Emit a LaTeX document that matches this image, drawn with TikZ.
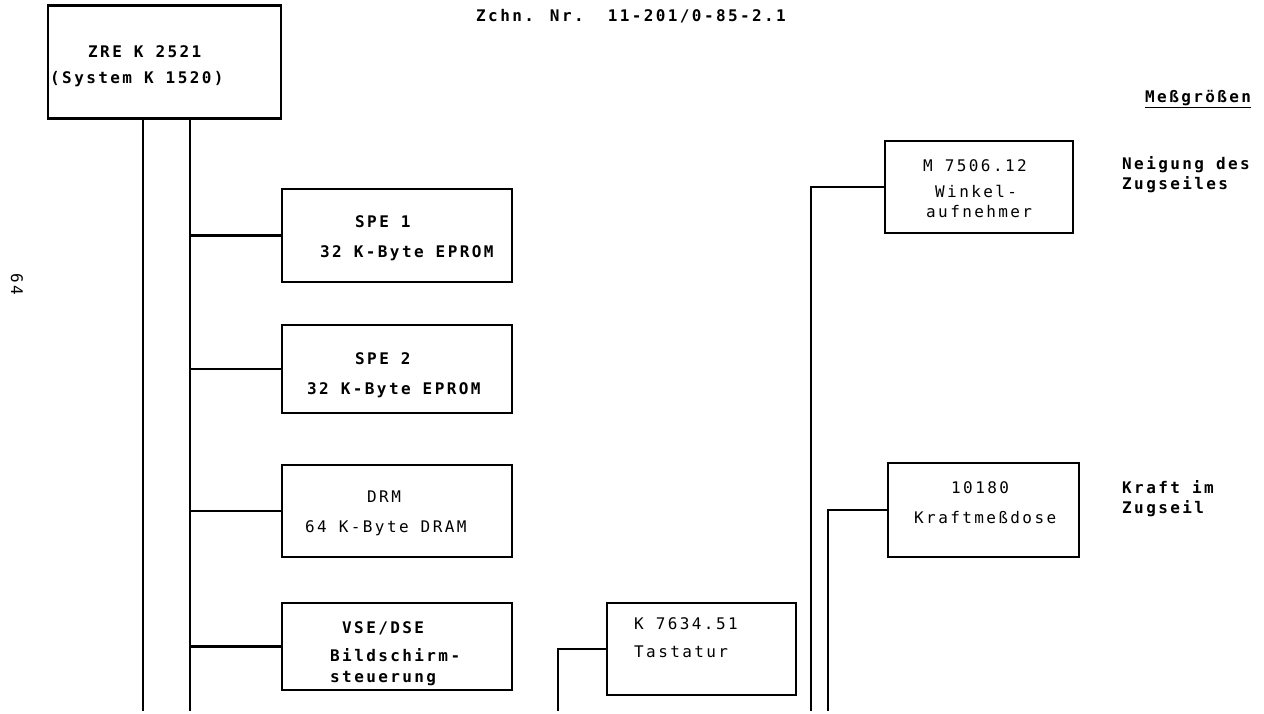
\documentclass[tikz,border=0pt]{standalone}
\usepackage{fontspec}
\newfontfamily\prfont{DejaVu Sans Mono}[LetterSpace=15]
\begin{document}
\begin{tikzpicture}[x=1pt,y=-1pt,
  box/.style={draw, line width=2.4pt, inner sep=0pt},
  txt/.style={anchor=west, inner sep=0pt, text height=11pt, text depth=3pt,
    font=\prfont\fontsize{16}{18}\selectfont},
  btxt/.style={txt, font=\prfont\bfseries\fontsize{16}{18}\selectfont},
  wire/.style={line width=2.2pt}]
\useasboundingbox (0,0) rectangle (1264,713);
\fill[white] (0,0) rectangle (1264,713);

% header and page number
\node[btxt] (hdr) at (476,17) {Zchn. Nr.~~11-201/0-85-2.1};
\node[txt, anchor=center, rotate=-90] (page) at (15,284) {64};

% boxes
\node[box, minimum width=233pt, minimum height=113pt] (zre) at (164.5,62) {};
\node[box, minimum width=230pt, minimum height=93pt] (spe1) at (397,235.5) {};
\node[box, minimum width=230pt, minimum height=88pt] (spe2) at (397,369) {};
\node[box, minimum width=230pt, minimum height=92pt] (drm) at (397,511) {};
\node[box, minimum width=230pt, minimum height=87pt] (vse) at (397,646.5) {};
\node[box, minimum width=189pt, minimum height=92pt] (tast) at (701.5,649) {};
\node[box, minimum width=188pt, minimum height=92pt] (winkel) at (979,187) {};
\node[box, minimum width=191pt, minimum height=94pt] (kraft) at (983.5,510) {};

% box texts
\node[btxt] (zre1) at (88,53) {ZRE K 2521};
\node[btxt] (zre2) at (50,79) {(System K 1520)};
\node[btxt] (spe1a) at (355,223) {SPE 1};
\node[btxt] (spe1b) at (320,253) {32 K-Byte EPROM};
\node[btxt] (spe2a) at (355,360) {SPE 2};
\node[btxt] (spe2b) at (307,390) {32 K-Byte EPROM};
\node[txt] (drma) at (367,498) {DRM};
\node[txt] (drmb) at (305,528) {64 K-Byte DRAM};
\node[btxt] (vsea) at (342,629) {VSE/DSE};
\node[btxt] (vseb) at (330,657) {Bildschirm-};
\node[btxt] (vsec) at (330,678) {steuerung};
\node[txt] (tasta) at (634,625) {K 7634.51};
\node[txt] (tastb) at (634,653) {Tastatur};
\node[txt] (winka) at (923,167) {M 7506.12};
\node[txt] (winkb) at (935,193) {Winkel-};
\node[txt] (winkc) at (926,213) {aufnehmer};
\node[txt] (krafta) at (951,489) {10180};
\node[txt] (kraftb) at (914,519) {Kraftmeßdose};

% right-hand labels
\node[btxt] (mess) at (1145,98) {\underline{Meßgrößen}};
\node[btxt] (neig1) at (1122,165) {Neigung des};
\node[btxt] (neig2) at (1122,185) {Zugseiles};
\node[btxt] (kr1) at (1122,489) {Kraft im};
\node[btxt] (kr2) at (1122,509) {Zugseil};

% free ends of lines at the bottom edge
\coordinate (bus1) at (143,711);
\coordinate (bus2) at (190,711);
\coordinate (bus3) at (558,711);
\coordinate (bus4) at (811,711);
\coordinate (bus5) at (828,711);

% connectors
\draw[wire] (bus1 |- zre.south) -- (bus1);
\draw[wire] (bus2 |- zre.south) -- (bus2);
\draw[wire] (spe1.west) -- (spe1.west -| bus2);
\draw[wire] (spe2.west) -- (spe2.west -| bus2);
\draw[wire] (drm.west) -- (drm.west -| bus2);
\draw[wire] (vse.west) -- (vse.west -| bus2);
\draw[wire] (tast.west) -| (bus3);
\draw[wire] (winkel.west) -| (bus4);
\draw[wire] (kraft.west) -| (bus5);
\end{tikzpicture}
\end{document}
